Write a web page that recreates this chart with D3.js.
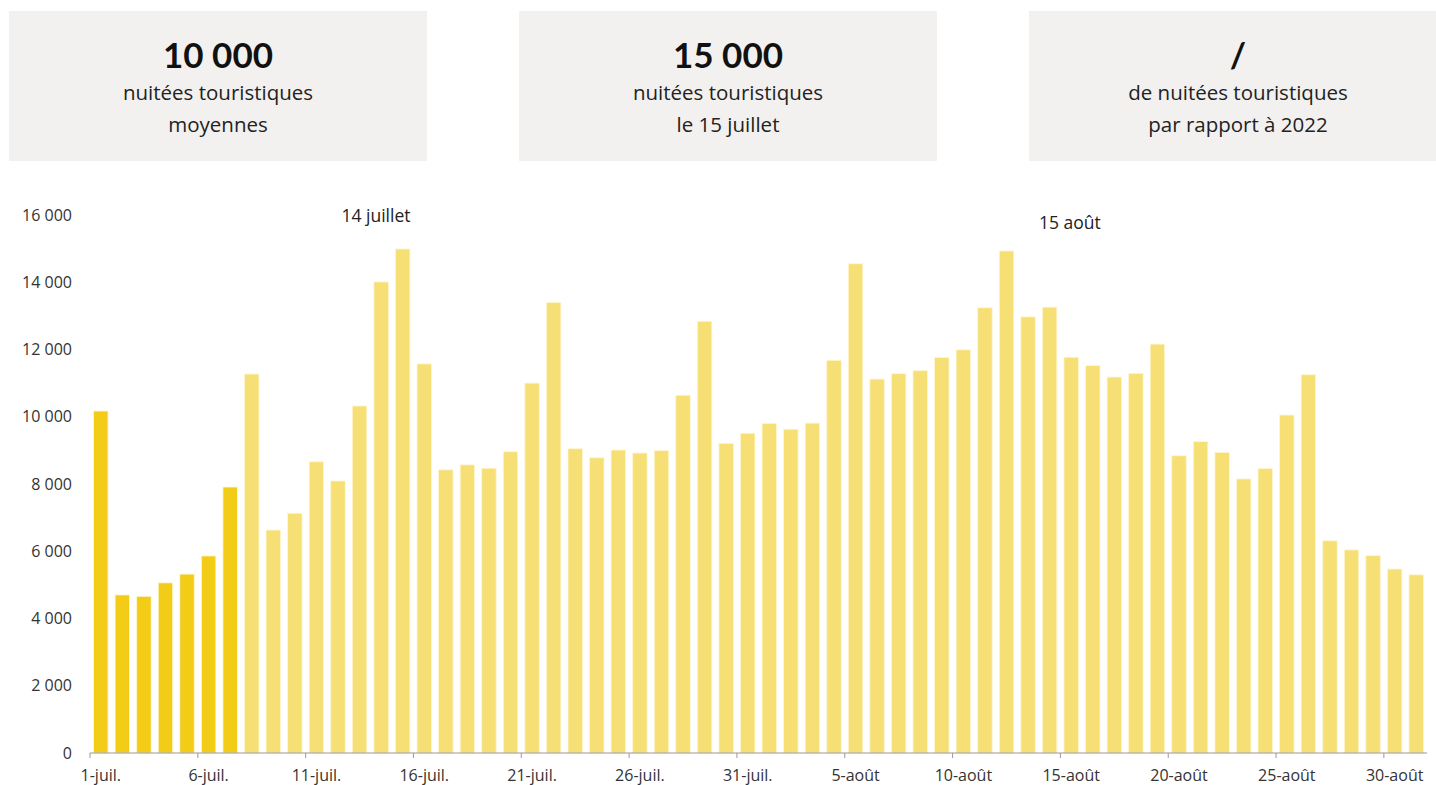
<!DOCTYPE html>
<meta charset="utf-8">
<style>
    body { margin: 0; background: #fff; font-family: "Open Sans", sans-serif; }
    .card rect { fill: #f2f1ef; }
    .card .big { font-family: "Lato", sans-serif; font-weight: 700; font-size: 35px; fill: #111; }
    .card .sub { font-size: 20.5px; fill: #222; }
    .axis text { font-family: "Open Sans", sans-serif; font-size: 16px; fill: #333; }
    .axis .domain, .axis line { stroke: #999; }
    .note { font-size: 17.5px; fill: #222; }
</style>
<svg width="1436" height="785"></svg>
<script src="https://d3js.org/d3.v7.min.js"></script>
<script>
    // nuitées touristiques par jour, 1 juillet -> 31 août
    var values = [
        10170, 4700, 4660, 5060, 5320, 5860, 7910, 11270, 6630, 7130,
        8660, 8090, 10320, 14010, 14990, 11570, 8420, 8570, 8470, 8960,
        11000, 13400, 9050, 8780, 9010, 8920, 8990, 10640, 12840, 9210,
        9510, 9800, 9630, 9810, 11680, 14550, 11120, 11280, 11370, 11760,
        11990, 13240, 14930, 12970, 13260, 11770, 11520, 11180, 11290, 12160,
        8840, 9260, 8940, 8150, 8460, 10050, 11250, 6310, 6040, 5870,
        5470, 5300
    ];
    var highlightCount = 7;
    var tickIndex = [0, 5, 10, 15, 20, 25, 30, 35, 40, 45, 50, 55, 60];
    var tickLabels = ["1-juil.", "6-juil.", "11-juil.", "16-juil.", "21-juil.", "26-juil.",
        "31-juil.", "5-août", "10-août", "15-août", "20-août", "25-août", "30-août"];
    var yTicks = [0, 2000, 4000, 6000, 8000, 10000, 12000, 14000, 16000];

    var cardBig = ["10 000", "15 000", "/"];
    var cardLine1 = ["nuitées touristiques", "nuitées touristiques", "de nuitées touristiques"];
    var cardLine2 = ["moyennes", "le 15 juillet", "par rapport à 2022"];

    var notes = [{ pos: 13.26, text: "14 juillet", y: 222 }, { pos: 45.44, text: "15 août", y: 229 }];

    var svg = d3.select("svg");

    // cartes du haut
    var cardX = [9, 519, 1029], cardW = [418, 418, 407];
    var card = svg.selectAll("g.card")
        .data(cardBig)
        .enter().append("g")
        .attr("class", "card")
        .attr("transform", function(d, i) { return "translate(" + cardX[i] + ",11)"; });

    card.append("rect")
        .attr("width", function(d, i) { return cardW[i]; })
        .attr("height", 150);

    card.append("text")
        .attr("class", "big")
        .attr("x", 209).attr("y", 57)
        .attr("text-anchor", "middle")
        .text(function(d) { return d; });

    card.append("text")
        .attr("class", "sub")
        .attr("x", 209).attr("y", 89)
        .attr("text-anchor", "middle")
        .text(function(d, i) { return cardLine1[i]; });

    card.append("text")
        .attr("class", "sub")
        .attr("x", 209).attr("y", 121)
        .attr("text-anchor", "middle")
        .text(function(d, i) { return cardLine2[i]; });

    // graphique
    var x = d3.scaleBand()
        .domain(d3.range(values.length))
        .range([90, 1427])
        .paddingInner(0.33)
        .paddingOuter(0.165);

    var y = d3.scaleLinear()
        .domain([0, 16000])
        .range([753, 215]);

    var fr = d3.formatLocale({ decimal: ",", thousands: " ", grouping: [3], currency: ["", " €"] });
    var fmt = fr.format(",d");

    svg.append("g")
        .attr("class", "bars")
        .selectAll("rect")
        .data(values)
        .enter().append("rect")
        .attr("x", function(d, i) { return x(i); })
        .attr("y", function(d) { return y(d); })
        .attr("width", x.bandwidth())
        .attr("height", function(d) { return y(0) - y(d); })
        .attr("fill", function(d, i) { return i < highlightCount ? "#f2cc17" : "#f6df75"; })
        .attr("stroke", "#fff6cf")
        .attr("stroke-width", 0.8);

    var yAxis = svg.append("g")
        .attr("class", "axis")
        .attr("transform", "translate(90,0)")
        .call(d3.axisLeft(y).tickValues(yTicks).tickFormat(fmt).tickSize(0).tickPadding(18));
    yAxis.select(".domain").remove();

    var step = x.step();
    var xAxis = svg.append("g")
        .attr("class", "axis")
        .attr("transform", "translate(0,753)")
        .call(d3.axisBottom(x)
            .tickValues(tickIndex)
            .tickFormat(function(d, i) { return tickLabels[i]; })
            .tickSize(5)
            .tickSizeOuter(0)
            .tickPadding(12));
    xAxis.selectAll(".tick line")
        .attr("x1", -step / 2).attr("x2", -step / 2);
    xAxis.select(".domain").attr("d", "M90,0H1427");

    svg.selectAll("text.note")
        .data(notes)
        .enter().append("text")
        .attr("class", "note")
        .attr("x", function(d) { return x.range()[0] + d.pos * step; })
        .attr("y", function(d) { return d.y; })
        .attr("text-anchor", "middle")
        .text(function(d) { return d.text; });
</script>
